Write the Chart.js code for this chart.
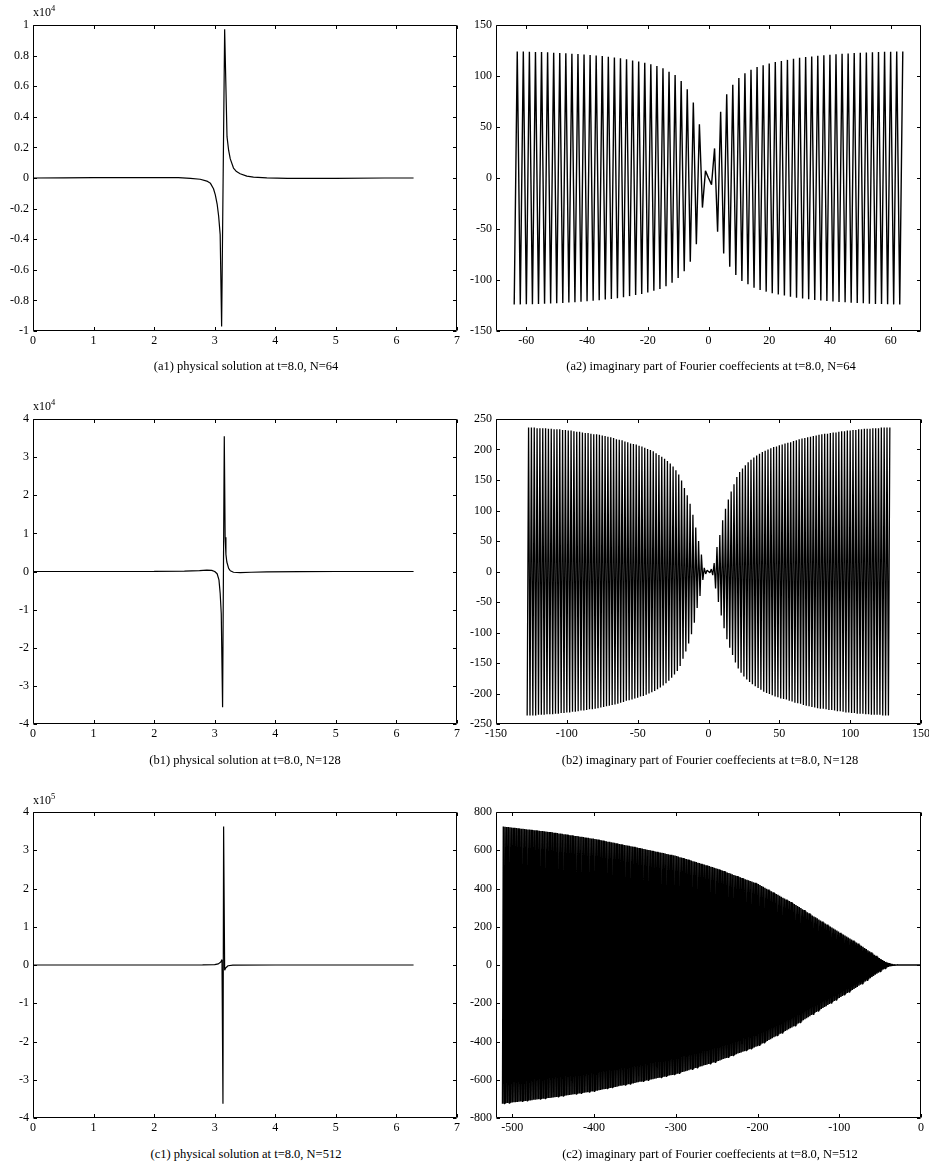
<!DOCTYPE html>
<html>
<head>
<meta charset="utf-8">
<script src="https://cdn.jsdelivr.net/npm/chart.js@4.4.1/dist/chart.umd.min.js"></script>
<style>
  body { margin: 0; background: #fff; }
  #page { position: relative; width: 929px; height: 1166px; overflow: hidden;
          font-family: "Liberation Serif", "Times New Roman", serif; color: #000; }
  canvas { position: absolute; }
  .cap, .exp { position: absolute; line-height: 14px; white-space: nowrap; }
  .cap { width: 400px; text-align: center; font-size: 12.5px; }
  .exp { font-size: 12px; }
  .exp sup { font-size: 8.5px; line-height: 0; vertical-align: 5px; }
</style>
</head>
<body>
<div id="page">
  <canvas id="a1"></canvas>
  <canvas id="a2"></canvas>
  <canvas id="b1"></canvas>
  <canvas id="b2"></canvas>
  <canvas id="c1"></canvas>
  <canvas id="c2"></canvas>

  <div class="exp" style="left:33px; top:5px;">x10<sup>4</sup></div>
  <div class="exp" style="left:33px; top:399px;">x10<sup>4</sup></div>
  <div class="exp" style="left:33px; top:793px;">x10<sup>5</sup></div>

  <div class="cap" style="left:46px; top:359px;">(a1) physical solution at t=8.0, N=64</div>
  <div class="cap" style="left:511px; top:359px;">(a2) imaginary part of Fourier coeffecients at t=8.0, N=64</div>
  <div class="cap" style="left:45px; top:753px;">(b1) physical solution at t=8.0, N=128</div>
  <div class="cap" style="left:510px; top:753px;">(b2) imaginary part of Fourier coeffecients at t=8.0, N=128</div>
  <div class="cap" style="left:46px; top:1147px;">(c1) physical solution at t=8.0, N=512</div>
  <div class="cap" style="left:510px; top:1147px;">(c2) imaginary part of Fourier coeffecients at t=8.0, N=512</div>
</div>
<script>
// physical solution u(x) at t=8.0, values in units of 10^4 (a1, b1) and 10^5 (c1)
var a1X = [0, 0.5, 1, 1.5, 2, 2.4, 2.6, 2.76, 2.87, 2.93, 2.98, 3.01, 3.04, 3.065, 3.09,
           3.114, 3.164, 3.203, 3.23, 3.257, 3.31, 3.36, 3.42, 3.53, 3.64, 3.86, 4.2, 5, 5.8, 6.283];
var a1U = [0, 0.001, 0.002, 0.003, 0.003, 0.002, -0.002, -0.008, -0.02, -0.035, -0.07, -0.11, -0.17, -0.25, -0.37,
           -0.97, 0.972, 0.27, 0.18, 0.125, 0.065, 0.042, 0.028, 0.012, 0.006, 0.001, -0.003, -0.002, 0, 0];

var b1X = [0, 1, 2, 2.5, 2.75, 2.87, 2.95, 3.0, 3.04, 3.07, 3.09, 3.108, 3.13,
           3.158, 3.172, 3.185, 3.2, 3.23, 3.257, 3.31, 3.42, 3.6, 3.86, 4.4, 5, 6.283];
var b1U = [0, 0, 0.003, 0.01, 0.025, 0.035, 0.03, 0, -0.06, -0.22, -0.57, -1.1, -3.56,
           3.55, 0.9, 0.45, 0.25, 0.08, 0.02, -0.02, -0.03, -0.02, -0.01, -0.003, 0, 0];

var c1X = [0, 1, 2, 2.8, 3.0, 3.06, 3.1, 3.12, 3.136, 3.147, 3.164, 3.18, 3.22, 3.3, 4, 5, 6.283];
var c1U = [0, 0, 0, 0.002, 0.008, 0.03, 0.08, 0.14, -3.63, 3.62, -0.14, -0.08, -0.02, -0.005, 0, 0, 0];

// imaginary part of the Fourier coefficients, wavenumber k = K0, K0+1, ...
var a2K0 = -64;
var a2Im = [
  -124, 124, -123.9, 123.9, -123.8, 123.8, -123.7, 123.6, -123.5, 123.4,
  -123.3, 123.2, -123.1, 122.9, -122.8, 122.6, -122.5, 122.3, -122.1, 121.9,
  -121.7, 121.5, -121.3, 121.1, -120.9, 120.6, -120.4, 120.1, -119.8, 119.5,
  -119.2, 118.9, -118.6, 118.2, -117.8, 117.4, -117, 116.5, -115.8, 115.1,
  -114.6, 114.1, -113.6, 113.1, -112.3, 111.4, -110.6, 109.8, -108.7, 107.5,
  -106, 104.2, -102.7, 101, -98, 95, -91.5, 87, -82, 74,
  -65, 52.6, -29, 7, 0, -6.5, 29, -52.6, 65, -74,
  82, -87, 91.5, -95, 98, -101, 102.7, -104.2, 106, -107.5,
  108.7, -109.8, 110.6, -111.4, 112.3, -113.1, 113.6, -114.1, 114.6, -115.1,
  115.8, -116.5, 117, -117.4, 117.8, -118.2, 118.6, -118.9, 119.2, -119.5,
  119.8, -120.1, 120.4, -120.6, 120.9, -121.1, 121.3, -121.5, 121.7, -121.9,
  122.1, -122.3, 122.5, -122.6, 122.8, -122.9, 123.1, -123.2, 123.3, -123.4,
  123.5, -123.6, 123.7, -123.8, 123.8, -123.9, 123.9, -124, 124
];

var b2K0 = -128;
var b2Im = [
  -236, 236, -236, 236, -236, 236, -236, 235, -235, 235,
  -235, 235, -235, 235, -234, 234, -234, 234, -234, 233,
  -233, 233, -233, 233, -232, 232, -232, 232, -231, 231,
  -231, 231, -230, 230, -230, 229, -229, 229, -228, 228,
  -228, 227, -227, 227, -226, 226, -226, 225, -225, 225,
  -224, 224, -223, 223, -222, 222, -221, 221, -220, 220,
  -219, 219, -218, 217, -217, 216, -215, 215, -214, 213,
  -212, 212, -211, 210, -210, 209, -208, 208, -207, 206,
  -205, 205, -204, 203, -202, 201, -200, 199, -198, 197,
  -196, 194, -193, 191, -190, 188, -187, 185, -183, 181,
  -179, 177, -174, 172, -169, 166, -163, 159, -155, 149,
  -143, 137, -131, 125, -118, 111, -103, 93, -84, 72,
  -60, 50, -40, 28, -14, 6, -4, 2, 0, -2,
  4, -6, 14, -28, 40, -50, 60, -72, 84, -93,
  103, -111, 118, -125, 131, -137, 143, -149, 155, -159,
  163, -166, 169, -172, 174, -177, 179, -181, 183, -185,
  187, -188, 190, -191, 193, -194, 196, -197, 198, -199,
  200, -201, 202, -203, 204, -205, 205, -206, 207, -208,
  208, -209, 210, -210, 211, -212, 212, -213, 214, -215,
  215, -216, 217, -217, 218, -219, 219, -220, 220, -221,
  221, -222, 222, -223, 223, -224, 224, -225, 225, -225,
  226, -226, 226, -227, 227, -227, 228, -228, 228, -229,
  229, -229, 230, -230, 230, -231, 231, -231, 231, -232,
  232, -232, 232, -233, 233, -233, 233, -233, 234, -234,
  234, -234, 234, -235, 235, -235, 235, -235, 235, -235,
  236, -236, 236, -236, 236, -236, 236
];

var c2K0 = -512;
var c2Im = [
  -725, 724, -724, 723, -723, 722, -722, 721, -721, 720,
  -720, 719, -719, 718, -718, 717, -717, 716, -716, 715,
  -715, 714, -714, 713, -713, 712, -712, 711, -711, 710,
  -710, 709, -709, 708, -708, 707, -707, 706, -705, 705,
  -704, 704, -703, 703, -702, 702, -701, 701, -700, 700,
  -699, 699, -698, 698, -697, 697, -696, 696, -695, 695,
  -694, 694, -693, 692, -692, 691, -690, 690, -689, 688,
  -688, 687, -686, 686, -685, 684, -684, 683, -682, 682,
  -681, 680, -680, 679, -678, 678, -677, 676, -676, 675,
  -675, 674, -673, 673, -672, 671, -671, 670, -669, 669,
  -668, 667, -667, 666, -665, 665, -664, 663, -662, 662,
  -661, 661, -660, 659, -658, 657, -657, 656, -655, 654,
  -653, 652, -651, 651, -650, 649, -648, 647, -646, 645,
  -645, 644, -643, 642, -641, 640, -639, 639, -638, 637,
  -636, 635, -634, 633, -632, 632, -631, 630, -629, 628,
  -627, 626, -626, 625, -624, 623, -622, 621, -620, 619,
  -619, 618, -617, 616, -615, 614, -613, 612, -611, 611,
  -610, 609, -608, 607, -606, 605, -604, 603, -602, 601,
  -600, 600, -599, 598, -597, 596, -595, 594, -593, 592,
  -591, 590, -589, 588, -588, 587, -586, 585, -584, 583,
  -582, 581, -580, 579, -578, 577, -577, 576, -575, 574,
  -573, 572, -571, 570, -568, 567, -566, 564, -563, 562,
  -560, 559, -558, 556, -555, 554, -553, 551, -550, 549,
  -547, 546, -545, 543, -542, 541, -539, 538, -537, 535,
  -534, 533, -531, 530, -529, 527, -526, 525, -523, 522,
  -521, 520, -518, 517, -516, 514, -513, 512, -510, 509,
  -508, 506, -505, 503, -502, 500, -499, 497, -495, 494,
  -492, 491, -489, 487, -486, 484, -483, 481, -479, 478,
  -476, 475, -473, 471, -470, 468, -467, 465, -463, 462,
  -460, 459, -457, 455, -454, 452, -451, 449, -447, 446,
  -444, 443, -441, 439, -438, 436, -435, 433, -431, 430,
  -428, 427, -425, 423, -420, 418, -416, 413, -411, 409,
  -406, 404, -402, 399, -397, 395, -392, 390, -388, 385,
  -383, 381, -378, 376, -374, 371, -369, 367, -364, 362,
  -359, 357, -355, 352, -350, 348, -345, 343, -341, 338,
  -336, 334, -331, 329, -327, 324, -322, 319, -317, 314,
  -311, 308, -306, 303, -300, 298, -295, 292, -289, 287,
  -284, 281, -278, 276, -273, 270, -268, 265, -262, 259,
  -257, 254, -251, 249, -246, 244, -241, 238, -236, 233,
  -230, 228, -225, 222, -220, 217, -215, 212, -209, 207,
  -204, 201, -199, 196, -193, 191, -188, 185, -183, 180,
  -177, 175, -172, 169, -167, 164, -162, 159, -156, 154,
  -151, 149, -146, 144, -141, 138, -136, 133, -131, 128,
  -125, 123, -120, 118, -115, 112, -109, 106, -103, 101,
  -98, 95, -92, 89, -86, 83, -80, 77, -74, 72,
  -69, 66, -63, 60, -57, 54, -51, 48, -46, 43,
  -40, 37, -34, 31, -29, 26, -23, 20, -18, 16,
  -14, 12, -10, 9, -7, 6, -5, 4, -3, 2,
  -2, 1, -1, 1, 0, 0, 0, 0, 0, 0,
  0, 0, 0, 0, 0, 0, 0, 0, 0, 0,
  0, 0, 0, 0, 0, 0, 0, 0, 0, 0,
  0, 0, 0
];

// tick labels
var physTicksX = [0, 1, 2, 3, 4, 5, 6, 7];
var a1TicksY = [-1, -0.8, -0.6, -0.4, -0.2, 0, 0.2, 0.4, 0.6, 0.8, 1];
var b1TicksY = [-4, -3, -2, -1, 0, 1, 2, 3, 4];
var c1TicksY = [-4, -3, -2, -1, 0, 1, 2, 3, 4];
var a2TicksX = [-60, -40, -20, 0, 20, 40, 60];
var a2TicksY = [-150, -100, -50, 0, 50, 100, 150];
var b2TicksX = [-150, -100, -50, 0, 50, 100, 150];
var b2TicksY = [-250, -200, -150, -100, -50, 0, 50, 100, 150, 200, 250];
var c2TicksX = [-500, -400, -300, -200, -100, 0];
var c2TicksY = [-800, -600, -400, -200, 0, 200, 400, 600, 800];

Chart.defaults.font.family = '"Liberation Serif", "Times New Roman", serif';
Chart.defaults.font.size = 12;
Chart.defaults.color = '#000';

var PAD_L = 45, PAD_T = 12, PAD_R = 15, AXIS_H = 26, TICK_LEN = 3.5;

// box around the plot area with short inward ticks on all four sides
var frameTicks = {
  id: 'frameTicks',
  afterDraw: function (chart) {
    var ctx = chart.ctx, a = chart.chartArea;
    var sx = chart.scales.x, sy = chart.scales.y;
    var l = a.left + 0.5, r = a.right - 0.5, t = a.top + 0.5, b = a.bottom - 0.5;
    ctx.save();
    ctx.strokeStyle = '#000';
    ctx.lineWidth = 1;
    ctx.beginPath();
    ctx.rect(l, t, r - l, b - t);
    sx.ticks.forEach(function (tk) {
      var px = Math.round(sx.getPixelForValue(tk.value)) + 0.5;
      ctx.moveTo(px, b); ctx.lineTo(px, b - TICK_LEN);
      ctx.moveTo(px, t); ctx.lineTo(px, t + TICK_LEN);
    });
    sy.ticks.forEach(function (tk) {
      var py = Math.round(sy.getPixelForValue(tk.value)) + 0.5;
      ctx.moveTo(l, py); ctx.lineTo(l + TICK_LEN, py);
      ctx.moveTo(r, py); ctx.lineTo(r - TICK_LEN, py);
    });
    ctx.stroke();
    ctx.restore();
  }
};

function axis(min, max, ticks, isX) {
  return {
    type: 'linear',
    min: min,
    max: max,
    grid: { display: false, drawTicks: false },
    border: { display: false },
    afterBuildTicks: function (s) { s.ticks = ticks.map(function (v) { return { value: v }; }); },
    afterFit: function (s) { if (isX) { s.height = AXIS_H; } else { s.width = PAD_L; } },
    ticks: { padding: isX ? 3 : 4, autoSkip: false, maxRotation: 0, color: '#000',
             callback: function (v) { return String(v); } }
  };
}

// box = [left, top, right, bottom] of the plot area on the page
function drawPanel(id, box, points, xr, yr, xt, yt, lw) {
  var cv = document.getElementById(id);
  var w = box[2] - box[0] + PAD_L + PAD_R;
  var h = box[3] - box[1] + PAD_T + AXIS_H;
  cv.width = w; cv.height = h;
  cv.style.width = w + 'px'; cv.style.height = h + 'px';
  cv.style.left = (box[0] - PAD_L) + 'px';
  cv.style.top = (box[1] - PAD_T) + 'px';
  new Chart(cv, {
    type: 'line',
    data: { datasets: [{ data: points, borderColor: '#000', borderWidth: lw,
                         borderJoinStyle: 'bevel', pointRadius: 0, tension: 0, fill: false }] },
    options: {
      responsive: false,
      animation: false,
      devicePixelRatio: 1,
      events: [],
      layout: { padding: { left: 0, top: PAD_T, right: PAD_R, bottom: 0 } },
      plugins: { legend: { display: false }, tooltip: { enabled: false } },
      scales: { x: axis(xr[0], xr[1], xt, true), y: axis(yr[0], yr[1], yt, false) }
    },
    plugins: [frameTicks]
  });
}

function curve(xs, ys) {
  return xs.map(function (x, i) { return { x: x, y: ys[i] }; });
}
function spectrum(k0, vals) {
  return vals.map(function (v, i) { return { x: k0 + i, y: v }; });
}

drawPanel('a1', [33, 25, 457, 331], curve(a1X, a1U), [0, 7], [-1, 1], physTicksX, a1TicksY, 1.2);
drawPanel('a2', [496, 25, 921, 331], spectrum(a2K0, a2Im), [-70, 70], [-150, 150], a2TicksX, a2TicksY, 1.4);
drawPanel('b1', [33, 419, 457, 724], curve(b1X, b1U), [0, 7], [-4, 4], physTicksX, b1TicksY, 1.2);
drawPanel('b2', [496, 419, 921, 724], spectrum(b2K0, b2Im), [-150, 150], [-250, 250], b2TicksX, b2TicksY, 1.3);
drawPanel('c1', [33, 812, 457, 1118], curve(c1X, c1U), [0, 7], [-4, 4], physTicksX, c1TicksY, 1.2);
drawPanel('c2', [496, 812, 921, 1118], spectrum(c2K0, c2Im), [-520, 0], [-800, 800], c2TicksX, c2TicksY, 1.5);
</script>
</body>
</html>
